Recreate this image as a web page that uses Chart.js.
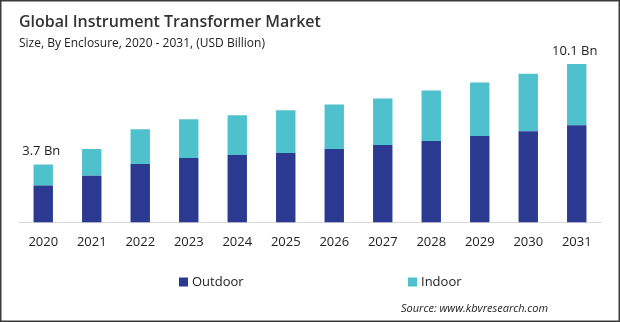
<!DOCTYPE html>
<html>
<head>
<meta charset="utf-8">
<script src="https://cdn.jsdelivr.net/npm/chart.js@4.4.0/dist/chart.umd.min.js"></script>
<style>
  html, body { margin: 0; padding: 0; background: #fff; }
  #wrap { position: relative; width: 620px; height: 322px; }
</style>
</head>
<body>
<div id="wrap"><canvas id="myChart" width="620" height="322"></canvas></div>
<script>
// Market size by enclosure type, USD billion
const years = ['2020', '2021', '2022', '2023', '2024', '2025', '2026', '2027', '2028', '2029', '2030', '2031'];
const outdoor = [2.35, 2.97, 3.73, 4.11, 4.30, 4.43, 4.68, 4.94, 5.19, 5.51, 5.82, 6.20];
const indoor = [1.35, 1.71, 2.22, 2.47, 2.54, 2.72, 2.85, 2.97, 3.23, 3.41, 3.67, 3.90];
const seriesNames = ['Outdoor', 'Indoor'];
const labelledYears = ['2020', '2031'];

const titleText = 'Global Instrument Transformer Market';
const subtitleText = 'Size, By Enclosure, 2020 - 2031, (USD Billion)';
const sourceText = 'Source: www.kbvresearch.com';

const FONT = '"Open Sans", "Noto Sans", sans-serif';
const NAVY = '#2b3990';
const TEAL = '#4fc1cd';

// title, total labels, legend, source line and frame
const decorations = {
    id: 'decorations',
    afterDraw(chart) {
        const ctx = chart.ctx;
        ctx.save();
        ctx.textBaseline = 'alphabetic';
        ctx.textAlign = 'left';

        ctx.fillStyle = '#333';
        ctx.font = '600 16px ' + FONT;
        ctx.fillText(titleText, 19, 27);
        ctx.font = '12px ' + FONT;
        ctx.fillStyle = '#222';
        ctx.fillText(subtitleText, 19, 47);

        // totals above the first and last bars
        const top = chart.getDatasetMeta(1);
        ctx.font = '13px ' + FONT;
        ctx.textAlign = 'center';
        ctx.fillStyle = '#222';
        years.forEach((y, i) => {
            if (!labelledYears.includes(y)) return;
            const bar = top.data[i];
            const total = outdoor[i] + indoor[i];
            ctx.fillText(total.toFixed(1) + ' Bn', bar.x - 2, bar.y - 9);
        });

        // legend
        const legendX = [179, 408];
        ctx.textAlign = 'left';
        ctx.textBaseline = 'middle';
        ctx.font = '13px ' + FONT;
        chart.data.datasets.forEach((ds, i) => {
            ctx.fillStyle = ds.backgroundColor;
            ctx.fillRect(legendX[i], 277.5, 9, 9);
            ctx.fillStyle = '#222';
            ctx.fillText(ds.label, legendX[i] + 13, 282);
        });

        ctx.font = 'italic 11px ' + FONT;
        ctx.fillStyle = '#222';
        ctx.fillText(sourceText, 401, 309);

        ctx.strokeStyle = '#3a3a3a';
        ctx.lineWidth = 1.5;
        ctx.strokeRect(0.75, 0.75, chart.width - 1.5, chart.height - 1.5);
        ctx.restore();
    }
};

const ctx = document.getElementById('myChart').getContext('2d');
new Chart(ctx, {
    type: 'bar',
    data: {
        labels: years,
        datasets: [{
            label: seriesNames[0],
            data: outdoor,
            backgroundColor: NAVY
        }, {
            label: seriesNames[1],
            data: indoor,
            backgroundColor: TEAL
        }]
    },
    options: {
        responsive: false,
        animation: false,
        layout: { padding: { top: 50, left: 19, right: 19, bottom: 68 } },
        datasets: { bar: { barPercentage: 0.4, categoryPercentage: 1 } },
        plugins: {
            legend: { display: false },
            title: { display: false },
            tooltip: { enabled: false }
        },
        scales: {
            x: {
                stacked: true,
                grid: { display: false },
                border: { color: '#d9d9d9', width: 1 },
                ticks: { color: '#222', padding: 4, font: { family: FONT, size: 13 } }
            },
            y: {
                stacked: true,
                display: false,
                min: 0,
                max: 11
            }
        }
    },
    plugins: [decorations]
});
</script>
</body>
</html>
